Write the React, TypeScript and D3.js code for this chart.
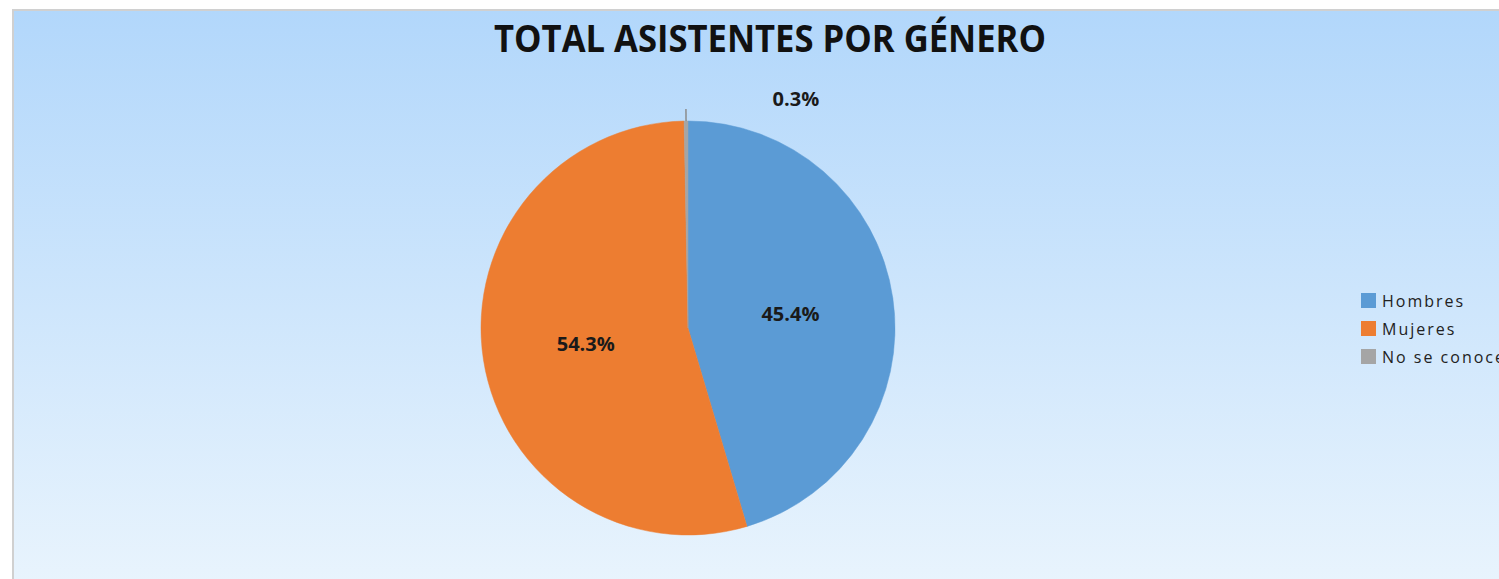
import React from "react";
import * as d3 from "d3";

const categories = ["Hombres", "Mujeres", "No se conoce"];
const values = [45.4, 54.3, 0.3];
const labels = ["45.4%", "54.3%", "0.3%"];
const colors = ["#5b9bd5", "#ed7d31", "#a5a5a5"];

const W = 1499;
const H = 579;

export default function App() {
  const cx = 688;
  const cy = 328;
  const r = 207;
  const pie = d3.pie<number>().sort(null).value((d) => d)(values);
  const arc = d3.arc<d3.PieArcDatum<number>>().innerRadius(0).outerRadius(r);
  const inner = d3.arc<d3.PieArcDatum<number>>().innerRadius(r * 0.5).outerRadius(r * 0.5);
  const font = "'Open Sans', 'DejaVu Sans', sans-serif";

  const labelPos = pie.map((p, i) => {
    if (i === 2) {
      const a = (p.startAngle + p.endAngle) / 2;
      return [Math.sin(a) * (r + 18) + 110, -Math.cos(a) * (r + 18) - 5];
    }
    const c = inner.centroid(p);
    return [c[0], c[1]];
  });
  const tiny = pie[2];
  const ta = (tiny.startAngle + tiny.endAngle) / 2;

  return (
    <svg width={W} height={H} style={{ position: "absolute", left: 0, top: 0, display: "block" }}>
      <defs>
        <linearGradient id="bg" x1="0" y1="0" x2="0" y2="1">
          <stop offset="0" stopColor="#b2d7fb" />
          <stop offset="1" stopColor="#e9f4fd" />
        </linearGradient>
      </defs>
      <rect x={0} y={0} width={W} height={H} fill="#ffffff" />
      <rect x={12} y={9} width={W} height={H} fill="#d0d0d0" />
      <rect x={14} y={11} width={W} height={H} fill="url(#bg)" />
      <text
        x={770}
        y={52}
        textAnchor="middle"
        fontFamily={font}
        fontWeight={700}
        fontSize={37}
        textLength={552}
        lengthAdjust="spacingAndGlyphs"
        fill="#111"
      >
        TOTAL ASISTENTES POR GÉNERO
      </text>
      <g transform={`translate(${cx},${cy})`}>
        {pie.map((p, i) => (
          <path key={categories[i]} d={arc(p) || ""} fill={colors[i]} stroke={colors[i]} strokeWidth={0.5} />
        ))}
        <line
          x1={Math.sin(ta) * r}
          y1={-Math.cos(ta) * r}
          x2={Math.sin(ta) * (r + 12)}
          y2={-Math.cos(ta) * (r + 12)}
          stroke="#8c8c8c"
          strokeWidth={1.5}
        />
        {labelPos.map((pos, i) => (
          <text
            key={labels[i]}
            x={pos[0]}
            y={pos[1]}
            textAnchor="middle"
            dominantBaseline="central"
            fontFamily={font}
            fontWeight={700}
            fontSize={20}
            fill="#1a1a1a"
          >
            {labels[i]}
          </text>
        ))}
      </g>
      <g transform="translate(1361,293)">
        {categories.map((c, i) => (
          <g key={c} transform={`translate(0,${i * 28})`}>
            <rect x={0} y={0} width={15} height={15} fill={colors[i]} />
            <text x={21} y={14} fontFamily={font} fontSize={16} letterSpacing={2} fill="#222">
              {c}
            </text>
          </g>
        ))}
      </g>
    </svg>
  );
}
